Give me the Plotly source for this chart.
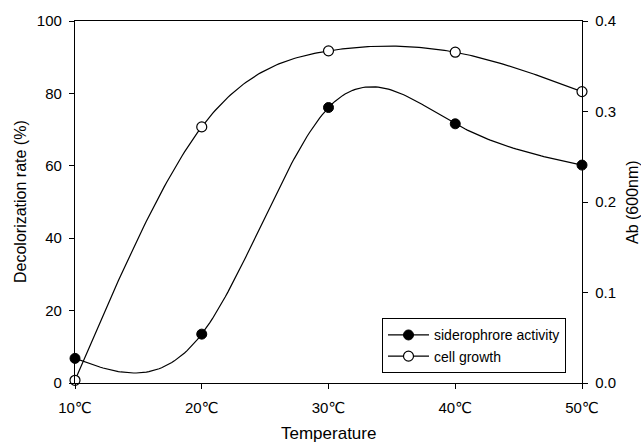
import numpy as np
import plotly.graph_objects as go

temps = [10, 20, 30, 40, 50]
temp_labels = ["10℃", "20℃", "30℃", "40℃", "50℃"]
siderophore = [6.8, 13.5, 76.1, 71.6, 60.2]
cell_growth = [0.003, 0.283, 0.367, 0.3655, 0.322]


def natural_spline(x, y, n=200):
    x = np.asarray(x, float)
    y = np.asarray(y, float)
    k = len(x)
    h = np.diff(x)
    A = np.zeros((k, k))
    b = np.zeros(k)
    A[0, 0] = 1
    A[-1, -1] = 1
    for i in range(1, k - 1):
        A[i, i - 1] = h[i - 1]
        A[i, i] = 2 * (h[i - 1] + h[i])
        A[i, i + 1] = h[i]
        b[i] = 6 * ((y[i + 1] - y[i]) / h[i] - (y[i] - y[i - 1]) / h[i - 1])
    M = np.linalg.solve(A, b)
    xs = np.linspace(x[0], x[-1], n)
    ys = np.empty_like(xs)
    for j, xv in enumerate(xs):
        i = min(np.searchsorted(x, xv, side="right") - 1, k - 2)
        t1 = x[i + 1] - xv
        t0 = xv - x[i]
        ys[j] = (M[i] * t1**3 / (6 * h[i]) + M[i + 1] * t0**3 / (6 * h[i])
                 + (y[i] / h[i] - M[i] * h[i] / 6) * t1
                 + (y[i + 1] / h[i] - M[i + 1] * h[i] / 6) * t0)
    return xs, ys


FAM = "Arial, Liberation Sans, DejaVu Sans"
font = dict(family=FAM, size=15, color="black")
fig = go.Figure()

sx, sy = natural_spline(temps, siderophore)
cx, cy = natural_spline(temps, cell_growth)

fig.add_trace(go.Scatter(x=sx, y=sy, mode="lines", line=dict(color="black", width=1.2),
                         showlegend=False, hoverinfo="skip"))
fig.add_trace(go.Scatter(x=cx, y=cy, mode="lines", line=dict(color="black", width=1.2),
                         showlegend=False, hoverinfo="skip", yaxis="y2"))
fig.add_trace(go.Scatter(x=temps, y=siderophore, mode="markers", cliponaxis=False,
                         marker=dict(color="black", size=10, line=dict(color="black", width=1)),
                         showlegend=False))
fig.add_trace(go.Scatter(x=temps, y=cell_growth, mode="markers", cliponaxis=False, yaxis="y2",
                         marker=dict(color="white", size=10, line=dict(color="black", width=1.2)),
                         showlegend=False))
# legend entries
fig.add_trace(go.Scatter(x=[None], y=[None], mode="lines+markers", name="siderophrore activity",
                         line=dict(color="black", width=1.2),
                         marker=dict(color="black", size=10, line=dict(color="black", width=1))))
fig.add_trace(go.Scatter(x=[None], y=[None], mode="lines+markers", name="cell growth",
                         line=dict(color="black", width=1.2),
                         marker=dict(color="white", size=10, line=dict(color="black", width=1.2))))

axis_common = dict(showline=True, linecolor="black", linewidth=1.3,
                   ticks="outside", ticklen=5, tickcolor="black", tickwidth=1.2,
                   showgrid=False, zeroline=False)

fig.update_layout(
    width=641, height=443,
    margin=dict(l=75, r=59, t=19, b=60),
    paper_bgcolor="white", plot_bgcolor="white",
    font=font,
    xaxis=dict(range=[10, 50], tickvals=temps, ticktext=temp_labels, mirror=True,
               ticklabelstandoff=6, **axis_common),
    yaxis=dict(range=[0, 100], tickvals=[0, 20, 40, 60, 80, 100], ticklabelstandoff=4,
               **axis_common),
    yaxis2=dict(range=[0, 0.4], tickvals=[0, 0.1, 0.2, 0.3, 0.4], tickformat=".1f",
                overlaying="y", side="right", ticklabelstandoff=4, **axis_common),
    legend=dict(x=(382 - 75) / 507, y=(383 - 318) / 364, xanchor="left", yanchor="top",
                bordercolor="black", borderwidth=1, bgcolor="white",
                font=dict(size=14), tracegroupgap=0, itemwidth=41),
    showlegend=True,
    annotations=[
        dict(text="Temperature", xref="paper", yref="paper", x=0.5, y=0, yshift=-50,
             xanchor="center", yanchor="middle", showarrow=False, font=dict(size=17)),
        dict(text="Decolorization rate (%)", xref="paper", yref="paper", x=0, y=0.5,
             xshift=-55, xanchor="center", yanchor="middle", textangle=-90,
             showarrow=False, font=dict(size=16)),
        dict(text="Ab (600nm)", xref="paper", yref="paper", x=1, y=0.5,
             xshift=50, xanchor="center", yanchor="middle", textangle=-90,
             showarrow=False, font=dict(size=16)),
    ],
)

fig.write_html("out.html", config={"displayModeBar": False},
               post_script="document.body.style.margin='0px';document.body.style.overflow='hidden';")
